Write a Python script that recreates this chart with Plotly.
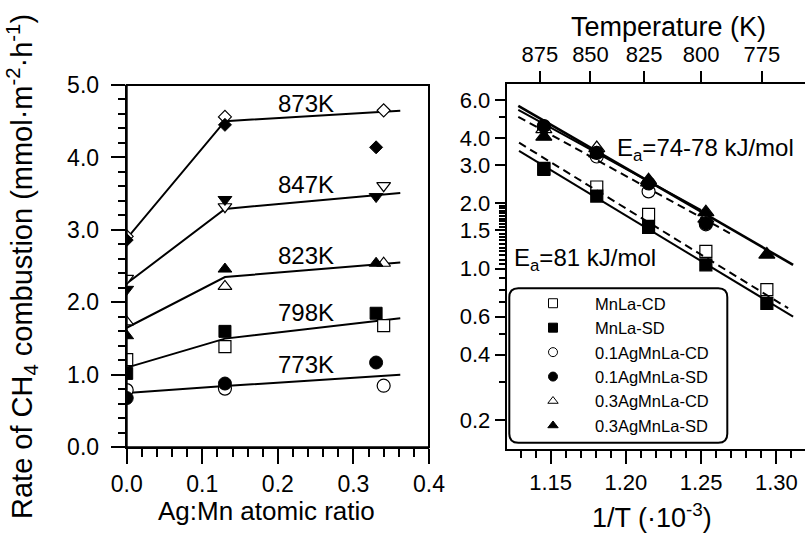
import plotly.graph_objects as go

W, H = 805, 535

# ---------------- Left panel data: rate vs Ag:Mn atomic ratio ----------------
ratio_cd = [0.0, 0.13, 0.34]
ratio_sd = [0.0, 0.13, 0.33]
temp_labels = ["873K", "847K", "823K", "798K", "773K"]

rate_873_cd = [2.91, 4.56, 4.65]
rate_873_sd = [2.86, 4.45, 4.14]
rate_847_cd = [2.33, 3.32, 3.61]
rate_847_sd = [2.18, 3.42, 3.46]
rate_823_cd = [1.73, 2.22, 2.54]
rate_823_sd = [1.54, 2.46, 2.54]
rate_798_cd = [1.21, 1.39, 1.68]
rate_798_sd = [1.02, 1.60, 1.85]
rate_773_cd = [0.79, 0.81, 0.85]
rate_773_sd = [0.68, 0.88, 1.17]

trend_x = [0.0, 0.13, 0.362]
trend_873 = [2.88, 4.50, 4.645]
trend_847 = [2.26, 3.29, 3.51]
trend_823 = [1.65, 2.35, 2.55]
trend_798 = [1.10, 1.50, 1.78]
trend_773 = [0.75, 0.845, 1.00]

# ---------------- Right panel data: Arrhenius plot ----------------
temps_k = [873, 847, 823, 798, 773]
sample_names = ["MnLa-CD", "MnLa-SD", "0.1AgMnLa-CD", "0.1AgMnLa-SD",
                "0.3AgMnLa-CD", "0.3AgMnLa-SD"]
mnla_cd = [2.90, 2.38, 1.78, 1.20, 0.80]
mnla_sd = [2.87, 2.16, 1.55, 1.04, 0.69]
ag01_cd = [4.50, 3.29, 2.27, 1.60, None]
ag01_sd = [4.55, 3.42, 2.47, 1.62, None]
ag03_cd = [4.40, 3.60, 2.50, 1.70, None]
ag03_sd = [4.06, 3.40, 2.56, 1.82, 1.16]

fit_ag_sd_x = [1.1285, 1.3111]
fit_ag_sd_y = [5.63, 1.04]
fit_ag_sd2_x = [1.1285, 1.25]
fit_ag_sd2_y = [5.40, 1.86]
fit_ag_cd_x = [1.1285, 1.2691]
fit_ag_cd_y = [5.02, 1.455]
fit_mnla_cd_x = [1.129, 1.3078]
fit_mnla_cd_y = [3.81, 0.656]
fit_mnla_sd_x = [1.129, 1.3111]
fit_mnla_sd_y = [3.49, 0.60]

top_ticks_k = [875, 850, 825, 800, 775]

inv_t = [1000.0 / t for t in temps_k]
top_tickvals = [1000.0 / t for t in top_ticks_k]

FONT = "Liberation Sans, Arial, sans-serif"
BLACK = "black"

fig = go.Figure()

# ---- left panel lines
for ys in [trend_873, trend_847, trend_823, trend_798, trend_773]:
    fig.add_trace(go.Scatter(x=trend_x, y=ys, mode="lines",
                             line=dict(color=BLACK, width=2),
                             showlegend=False, hoverinfo="skip",
                             xaxis="x", yaxis="y"))

left_sets = [
    ("diamond", 10, rate_873_cd, rate_873_sd),
    ("triangle-down", 12, rate_847_cd, rate_847_sd),
    ("triangle-up", 12, rate_823_cd, rate_823_sd),
    ("square", 12, rate_798_cd, rate_798_sd),
    ("circle", 13, rate_773_cd, rate_773_sd),
]
for sym, sz, cd, sd in left_sets:
    fig.add_trace(go.Scatter(x=ratio_cd, y=cd, mode="markers",
                             marker=dict(symbol=sym, size=sz, color="white",
                                         line=dict(color=BLACK, width=1.2)),
                             showlegend=False, xaxis="x", yaxis="y"))
for sym, sz, cd, sd in left_sets:
    fig.add_trace(go.Scatter(x=ratio_sd, y=sd, mode="markers",
                             marker=dict(symbol=sym, size=sz, color=BLACK,
                                         line=dict(color=BLACK, width=1)),
                             showlegend=False, xaxis="x", yaxis="y"))

# ---- right panel fit lines (drawn against the top temperature axis, same range)
right_lines = [
    (fit_ag_sd_x, fit_ag_sd_y, "solid", 2.6),
    (fit_ag_sd2_x, fit_ag_sd2_y, "solid", 2),
    (fit_ag_cd_x, fit_ag_cd_y, "8px,5px", 2),
    (fit_mnla_cd_x, fit_mnla_cd_y, "8px,5px", 2),
    (fit_mnla_sd_x, fit_mnla_sd_y, "solid", 2),
]
for xs, ys, dash, w in right_lines:
    fig.add_trace(go.Scatter(x=xs, y=ys, mode="lines",
                             line=dict(color=BLACK, width=w, dash=dash),
                             showlegend=False, hoverinfo="skip",
                             xaxis="x3", yaxis="y2"))

right_sets = [
    ("square", 12, "white", mnla_cd),
    ("circle", 13, "white", ag01_cd),
    ("triangle-up", 14, "white", ag03_cd),
    ("square", 12, BLACK, mnla_sd),
    ("circle", 13, BLACK, ag01_sd),
    ("triangle-up", 14, BLACK, ag03_sd),
]
for sym, sz, col, vals in right_sets:
    fig.add_trace(go.Scatter(x=inv_t, y=vals, mode="markers",
                             marker=dict(symbol=sym, size=sz, color=col,
                                         line=dict(color=BLACK, width=1.2)),
                             showlegend=False, xaxis="x2", yaxis="y2"))

# ---- legend entries
leg_styles = [("square", "white"), ("square", BLACK), ("circle", "white"),
              ("circle", BLACK), ("triangle-up", "white"), ("triangle-up", BLACK)]
for name, (sym, col) in zip(sample_names, leg_styles):
    fig.add_trace(go.Scatter(x=[None], y=[None], mode="markers", name=name,
                             marker=dict(symbol=sym, size=9, color=col,
                                         line=dict(color=BLACK, width=1)),
                             xaxis="x2", yaxis="y2"))

def px_x(p):
    return p / W

def px_y(p):
    return 1 - p / H

# panel geometry in pixels
L_X0, L_X1, L_Y0, L_Y1 = 126.7, 429.0, 85.0, 447.3
R_X0, R_X1, R_Y0, R_Y1 = 506.7, 805.0, 84.0, 449.0

axis_common = dict(showgrid=False, zeroline=False, linecolor=BLACK, linewidth=2,
                   showline=True, automargin=False,
                   ticks="outside", tickcolor=BLACK, tickwidth=2,
                   tickfont=dict(family=FONT, size=23, color=BLACK))

fig.update_layout(
    width=W, height=H,
    margin=dict(l=0, r=0, t=0, b=0, autoexpand=False),
    paper_bgcolor="white", plot_bgcolor="white",
    font=dict(family=FONT, color=BLACK),
    xaxis=dict(axis_common, domain=[px_x(L_X0), px_x(L_X1)], range=[0, 0.4],
               tickmode="linear", tick0=0, dtick=0.1, tickformat=".1f",
               ticklen=15, anchor="y",
               minor=dict(dtick=0.02, tick0=0, ticks="outside", ticklen=8,
                          tickwidth=2, tickcolor=BLACK)),
    yaxis=dict(axis_common, domain=[px_y(L_Y1), px_y(L_Y0)], range=[0, 5],
               tickmode="linear", tick0=0, dtick=1, tickformat=".1f",
               ticklen=14, anchor="x", ticklabelstandoff=7,
               minor=dict(dtick=0.2, tick0=0, ticks="outside", ticklen=7,
                          tickwidth=2, tickcolor=BLACK)),
    xaxis2=dict(axis_common, domain=[px_x(R_X0), px_x(R_X1)],
                range=[1.1208, 1.319], tickmode="linear", tick0=1.15, dtick=0.05,
                tickformat=".2f", ticklen=13, anchor="y2",
                tickfont=dict(family=FONT, size=22, color=BLACK),
                minor=dict(dtick=0.01, tick0=1.15, ticks="outside", ticklen=7,
                           tickwidth=2, tickcolor=BLACK)),
    xaxis3=dict(axis_common, overlaying="x2", side="top", anchor="y2",
                range=[1.1208, 1.319], tickmode="array", tickvals=top_tickvals,
                ticktext=[str(t) for t in top_ticks_k], ticklen=11,
                tickfont=dict(family=FONT, size=22, color=BLACK)),
    yaxis2=dict(axis_common, type="log", domain=[px_y(R_Y1), px_y(R_Y0)],
                range=[-0.833, 0.852], anchor="x2", tickmode="array",
                tickvals=[0.2, 0.4, 0.6, 1.0, 1.5, 2.0, 3.0, 4.0, 6.0],
                ticktext=["0.2", "0.4", "0.6", "1.0", "1.5", "2.0", "3.0", "4.0", "6.0"],
                ticklen=10,
                tickfont=dict(family=FONT, size=22, color=BLACK),
                minor=dict(tickmode="array",
                           tickvals=[0.3, 0.5, 0.7, 0.8, 0.9,
                                     1.05, 1.1, 1.15, 1.2, 1.25, 1.3, 1.35, 1.4, 1.45,
                                     1.55, 1.6, 1.65, 1.7, 1.75, 1.8, 1.85, 1.9, 1.95,
                                     5.0],
                           ticks="outside", ticklen=6, tickwidth=1.5,
                           tickcolor=BLACK)),
    legend=dict(x=px_x(511), y=px_y(286), xanchor="left", yanchor="top",
                bgcolor="rgba(0,0,0,0)", borderwidth=0,
                font=dict(family=FONT, size=16.5, color=BLACK),
                itemwidth=74, tracegroupgap=0),
    showlegend=True,
)

# frame around the left panel (top and right sides)
fig.add_shape(type="rect", xref="x domain", yref="y domain", x0=0, x1=1, y0=0, y1=1,
              line=dict(color=BLACK, width=2), fillcolor="rgba(0,0,0,0)", layer="above")

# rounded legend frame
x0, x1 = px_x(509.3), px_x(727.3)
y0, y1 = px_y(442.7), px_y(288.3)
rx, ry = 9 / W, 9 / H
path = (f"M {x0+rx},{y1} L {x1-rx},{y1} Q {x1},{y1} {x1},{y1-ry} "
        f"L {x1},{y0+ry} Q {x1},{y0} {x1-rx},{y0} L {x0+rx},{y0} "
        f"Q {x0},{y0} {x0},{y0+ry} L {x0},{y1-ry} Q {x0},{y1} {x0+rx},{y1} Z")
fig.add_shape(type="path", path=path, xref="paper", yref="paper",
              line=dict(color=BLACK, width=2), fillcolor="white", layer="above")

ann = []
label_y = [4.75, 3.62, 2.65, 1.86, 1.14]
for lab, yv in zip(temp_labels, label_y):
    ann.append(dict(x=0.237, y=yv, xref="x", yref="y", text=lab, showarrow=False,
                    font=dict(family=FONT, size=24, color=BLACK),
                    xanchor="center", yanchor="middle"))
ann.append(dict(x=1.1927, y=0.548, xref="x2", yref="y2",
                text="E<sub>a</sub>=74-78 kJ/mol", showarrow=False,
                font=dict(family=FONT, size=24, color=BLACK),
                xanchor="left", yanchor="middle"))
ann.append(dict(x=1.1241, y=0.044, xref="x2", yref="y2",
                text="E<sub>a</sub>=81 kJ/mol", showarrow=False,
                font=dict(family=FONT, size=24, color=BLACK),
                xanchor="left", yanchor="middle"))
ann.append(dict(x=px_x(22), y=px_y(267), xref="paper", yref="paper",
                text="Rate of CH<sub>4</sub> combustion (mmol·m<sup>-2</sup>·h<sup>-1</sup>)",
                textangle=-90, showarrow=False,
                font=dict(family=FONT, size=29, color=BLACK),
                xanchor="center", yanchor="middle"))
ann.append(dict(x=px_x(266.7), y=px_y(511), xref="paper", yref="paper",
                text="Ag:Mn atomic ratio", showarrow=False,
                font=dict(family=FONT, size=26, color=BLACK),
                xanchor="center", yanchor="middle"))
ann.append(dict(x=px_x(652), y=px_y(516), xref="paper", yref="paper",
                text="1/T (·10<sup>-3</sup>)", showarrow=False,
                font=dict(family=FONT, size=27, color=BLACK),
                xanchor="center", yanchor="middle"))
ann.append(dict(x=px_x(668), y=px_y(27), xref="paper", yref="paper",
                text="Temperature (K)", showarrow=False,
                font=dict(family=FONT, size=27, color=BLACK),
                xanchor="center", yanchor="middle"))
fig.update_layout(annotations=ann)

fig.write_html("out.html")
